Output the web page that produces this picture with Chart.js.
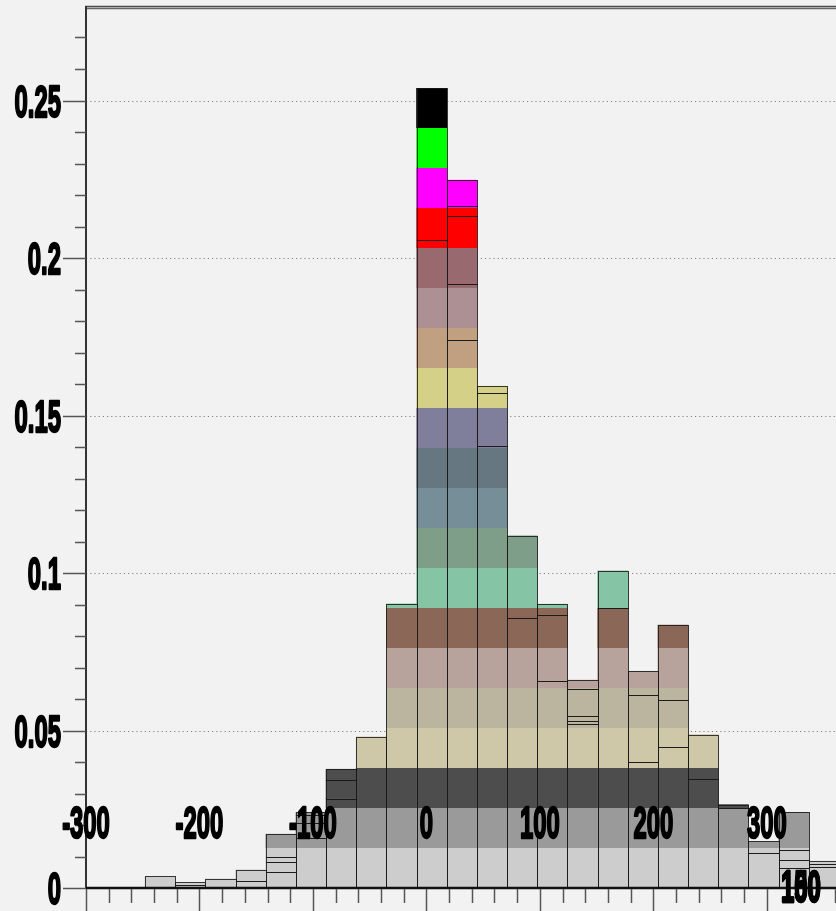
<!DOCTYPE html>
<html>
<head>
<meta charset="utf-8">
<title>Stacked distribution</title>
<script src="https://cdn.jsdelivr.net/npm/chart.js@4.4.1/dist/chart.umd.min.js"></script>
<style>
  html, body { margin: 0; padding: 0; background: #f2f2f2; overflow: hidden; }
  #plot { display: block; }
</style>
</head>
<body>
<canvas id="plot" width="836" height="911"></canvas>
<script>
// Bin centres of the histogram (x units)
const binCenters = [-234.70, -208.11, -181.52, -154.93, -128.34, -101.75, -75.16, -48.57,
  -21.98, 4.61, 31.20, 57.79, 84.38, 110.97, 137.56, 164.15, 190.74, 217.33,
  243.92, 270.51, 297.10, 323.69, 350.28];

// Stacked components, bottom to top (null = component absent in that bin)
const compA = [0.0037, 0.0008, 0.0029, 0.0022, 0.0050, 0.0159, 0.0284, 0.0480, 0.0902,
  0.2057, 0.1739, 0.1402, 0.0856, 0.0657, 0.0520, 0.0888, 0.0400, 0.0447, 0.0347,
  0.0255, 0.0111, 0.0062, 0.0067];
const compB = [null, 0.0010, null, 0.0036, 0.0033, 0.0046, 0.0058, null, null,
  0.0482, 0.0178, 0.0169, 0.0262, 0.0211, 0.0011, 0.0119, 0.0212, 0.0151, 0.0140,
  0.0010, 0.0037, 0.0026, 0.0008];
const compC = [null, null, null, null, 0.0016, 0.0026, 0.0035, null, null,
  null, 0.0216, 0.0022, null, 0.0033, 0.0014, null, 0.0076, 0.0237, null,
  null, null, 0.0032, 0.0010];
const compD = [null, null, null, null, 0.0072, 0.0009, null, null, null,
  null, 0.0032, null, null, null, 0.0087, null, null, null, null,
  null, null, 0.0120, null];
const compE = [null, null, null, null, null, null, null, null, null,
  null, 0.0082, null, null, null, 0.0028, null, null, null, null,
  null, null, null, null];

// Level colouring: each band of height bandStep gets its own fill
const bandStep = 0.0127;
const bandColors = ['#cdcdcd', '#9a9a9a', '#4d4d4d', '#cec8a9', '#bbb5a0', '#b8a39c',
  '#8a6757', '#85c4a4', '#7f9e8a', '#768e97', '#677781', '#7f7f9b', '#d4d088',
  '#c0a080', '#ad9094', '#98696f', '#ff0000', '#ff00ff', '#00ff00', '#000000'];

// Axis labelling
const yLabelValues = [0, 0.05, 0.1, 0.15, 0.2, 0.25];
const yLabels = ['0', '0.05', '0.1', '0.15', '0.2', '0.25'];
const xLabelValues = [-300, -200, -100, 0, 100, 200, 300];
const xLabels = ['-300', '-200', '-100', '0', '100', '200', '300'];
const cornerLabels = ['100', '150'];

let bandCache = null;
function bandFill(chart) {
  const area = chart.chartArea;
  const ys = chart.scales && chart.scales.y;
  if (!area || !ys) return bandColors[0];
  const key = area.top + ':' + area.bottom;
  if (bandCache && bandCache.key === key) return bandCache.fill;
  const n = bandColors.length;
  const y0 = ys.getPixelForValue(0);
  const y1 = ys.getPixelForValue(n * bandStep);
  const g = chart.ctx.createLinearGradient(0, y0, 0, y1);
  bandColors.forEach((c, k) => {
    g.addColorStop(k / n, c);
    g.addColorStop(Math.max(k / n, (k + 1) / n - 1e-6), c);
  });
  bandCache = { key, fill: g };
  return g;
}

function series(values) {
  return values.map((v, i) => ({ x: binCenters[i], y: v }));
}

const components = [compA, compB, compC, compD, compE];
const datasets = components.map((vals, i) => ({
  label: 'component ' + (i + 1),
  data: series(vals),
  backgroundColor: (ctx) => bandFill(ctx.chart),
  borderWidth: 0,
  barPercentage: 1,
  categoryPercentage: 1
}));

function condensedText(ctx, txt, x, baseline, align) {
  ctx.save();
  ctx.translate(x, baseline);
  ctx.scale(0.53, 1);
  ctx.textAlign = align;
  ctx.textBaseline = 'alphabetic';
  ctx.font = 'bold 45px "Liberation Sans", Arial, sans-serif';
  ctx.fillStyle = '#000';
  ctx.strokeStyle = '#000';
  ctx.lineWidth = 2.4;
  ctx.lineJoin = 'round';
  ctx.fillText(txt, 0, 0);
  ctx.strokeText(txt, 0, 0);
  ctx.restore();
}

const framePlugin = {
  id: 'frame',
  beforeDraw(chart) {
    const ctx = chart.ctx;
    ctx.save();
    ctx.fillStyle = '#f2f2f2';
    ctx.fillRect(0, 0, chart.width, chart.height);
    ctx.restore();
  },
  beforeDatasetsDraw(chart) {
    const ctx = chart.ctx, a = chart.chartArea, ys = chart.scales.y;
    ctx.save();
    ctx.strokeStyle = '#808080';
    ctx.lineWidth = 1;
    ctx.setLineDash([1.2, 3]);
    yLabelValues.forEach(v => {
      if (v === 0) return;
      const py = Math.round(ys.getPixelForValue(v)) + 0.5;
      ctx.beginPath();
      ctx.moveTo(a.left, py);
      ctx.lineTo(a.right, py);
      ctx.stroke();
    });
    ctx.restore();
  },
  afterDatasetsDraw(chart) {
    const ctx = chart.ctx, a = chart.chartArea;
    const xs = chart.scales.x, ys = chart.scales.y;

    // bar outlines
    ctx.save();
    ctx.beginPath();
    ctx.rect(a.left, a.top, a.right - a.left, a.bottom - a.top);
    ctx.clip();
    ctx.strokeStyle = 'rgba(25,25,25,0.85)';
    ctx.lineWidth = 1;
    chart.data.datasets.forEach((ds, i) => {
      const meta = chart.getDatasetMeta(i);
      meta.data.forEach((bar, j) => {
        if (ds.data[j].y == null) return;
        const p = bar.getProps(['x', 'y', 'base', 'width'], true);
        const l = Math.round(p.x - p.width / 2) + 0.5;
        const r = Math.round(p.x + p.width / 2) + 0.5;
        const t = Math.round(p.y) + 0.5;
        const b = Math.round(p.base) + 0.5;
        ctx.strokeRect(l, t, r - l, b - t);
      });
    });
    ctx.restore();

    ctx.save();
    // top frame
    ctx.strokeStyle = '#4a4a4a';
    ctx.lineWidth = 1.5;
    ctx.beginPath(); ctx.moveTo(a.left - 1, a.top + 0.5); ctx.lineTo(a.right, a.top + 0.5); ctx.stroke();
    ctx.strokeStyle = '#666';
    ctx.beginPath(); ctx.moveTo(a.left - 1, a.top + 2.5); ctx.lineTo(a.right, a.top + 2.5); ctx.stroke();

    // left axis
    ctx.strokeStyle = '#333';
    ctx.lineWidth = 2;
    ctx.beginPath(); ctx.moveTo(a.left, a.top); ctx.lineTo(a.left, a.bottom); ctx.stroke();

    // y ticks every 0.01, long ones every 0.05
    ctx.strokeStyle = '#555';
    ctx.lineWidth = 1.5;
    for (let i = 0; i <= 27; i++) {
      const py = Math.round(ys.getPixelForValue(i / 100)) + 0.5;
      const len = (i % 5 === 0) ? 23 : 11;
      ctx.beginPath(); ctx.moveTo(a.left - len, py); ctx.lineTo(a.left, py); ctx.stroke();
    }

    // x axis line
    ctx.strokeStyle = '#111';
    ctx.lineWidth = 2.5;
    ctx.beginPath(); ctx.moveTo(a.left, a.bottom); ctx.lineTo(a.right, a.bottom); ctx.stroke();

    // x ticks every 20, long ones every 100
    ctx.strokeStyle = '#555';
    ctx.lineWidth = 1.5;
    for (let i = -15; i <= 18; i++) {
      const v = i * 20;
      const px = Math.round(xs.getPixelForValue(v)) + 0.5;
      const len = (v % 100 === 0) ? 26 : 15;
      ctx.beginPath(); ctx.moveTo(px, a.bottom + 1); ctx.lineTo(px, a.bottom + len); ctx.stroke();
    }
    ctx.restore();

    // labels
    yLabelValues.forEach((v, i) => {
      condensedText(ctx, yLabels[i], a.left - 25, ys.getPixelForValue(v) + 16, 'right');
    });
    xLabelValues.forEach((v, i) => {
      condensedText(ctx, xLabels[i], xs.getPixelForValue(v), a.bottom - 50, 'center');
    });
    cornerLabels.forEach(t => {
      condensedText(ctx, t, xs.getPixelForValue(330), a.bottom + 14, 'center');
    });
  }
};

new Chart(document.getElementById('plot'), {
  type: 'bar',
  data: { datasets },
  options: {
    responsive: false,
    devicePixelRatio: 1,
    animation: false,
    layout: { padding: { left: 86, top: 6, right: 0, bottom: 23 } },
    plugins: { legend: { display: false }, tooltip: { enabled: false } },
    scales: {
      x: {
        type: 'linear', min: -300, max: 361, stacked: true, display: false, offset: false,
        grid: { offset: false },
        ticks: { stepSize: 100, includeBounds: false }
      },
      y: {
        type: 'linear', min: 0, max: 0.28, stacked: true, display: false,
        ticks: { stepSize: 0.05, includeBounds: false }
      }
    }
  },
  plugins: [framePlugin]
});
</script>
</body>
</html>
